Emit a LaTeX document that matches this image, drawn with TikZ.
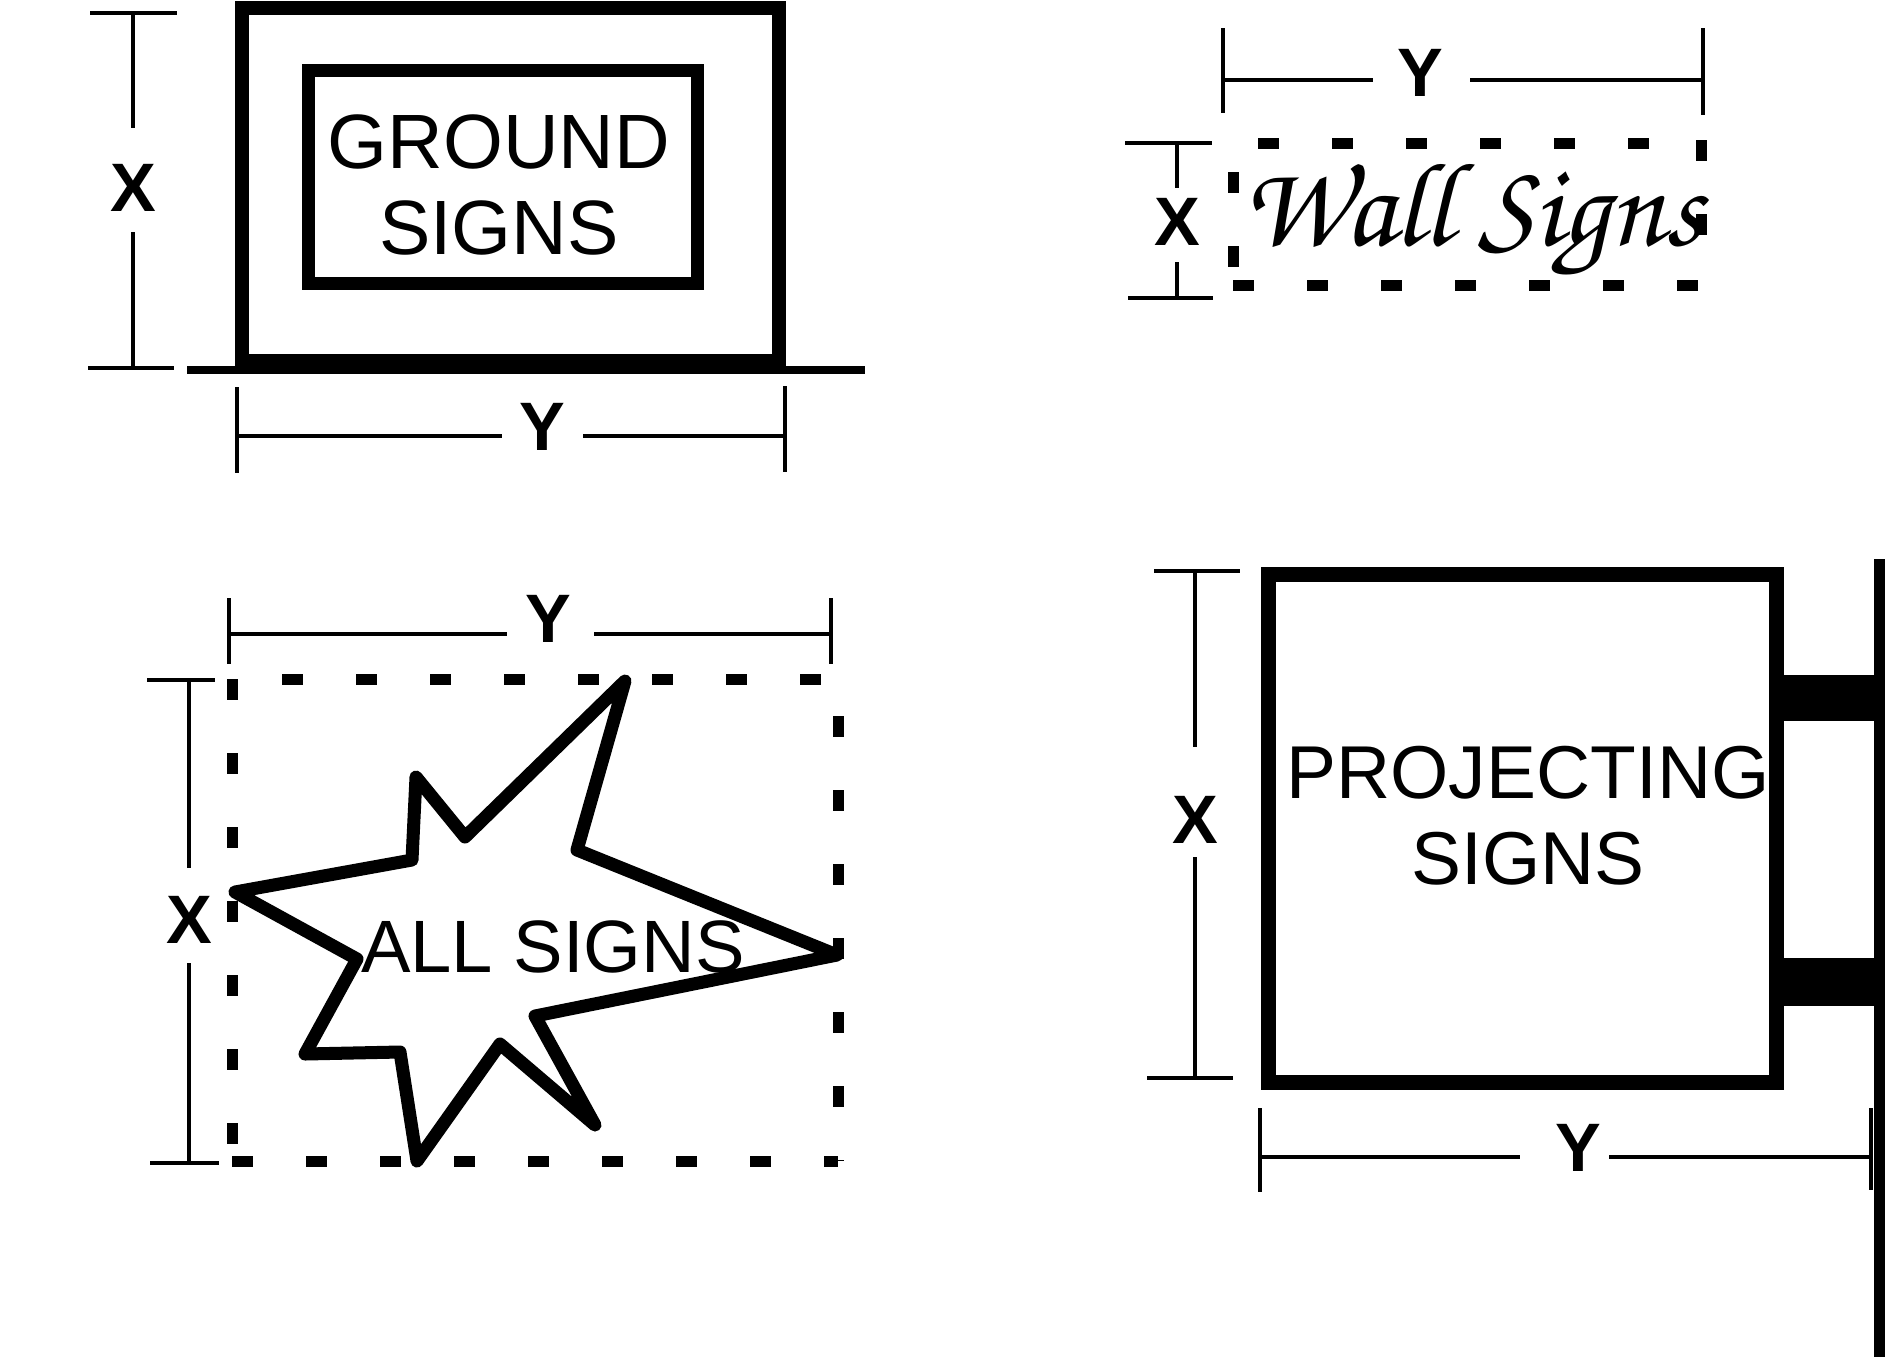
\documentclass[tikz,border=0pt]{standalone}
\usepackage[T1]{fontenc}
\usepackage{fontspec}
\setmainfont{Liberation Sans}
\begin{document}
\begin{tikzpicture}[x=0.01cm, y=-0.01cm,
    signline/.style={line width=0.14cm},
    dimline/.style={line width=0.04cm},
    dotline/.style={line width=0.11cm, dash pattern=on 0.21cm off 0.53cm},
    dimlabel/.style={inner sep=0pt, font=\fontsize{19.5}{20}\selectfont\bfseries},
    signlabel/.style={align=center, inner sep=0pt}]
  \useasboundingbox (0,0) rectangle (1885,1357);

  % Ground sign
  \draw[signline] (242,8) rectangle (779,361);
  \draw[line width=0.13cm] (308,70) rectangle (697,283);
  \draw[line width=0.08cm] (187,370) -- (865,370);
  \node[signlabel, font=\fontsize{21.9}{24.2}\selectfont] (groundtext) at (499,185) {GROUND\\SIGNS};
  % Ground sign dimensions
  \draw[dimline] (90,13) -- (177,13); \draw[dimline] (88,368) -- (174,368);
  \draw[dimline] (133,13) -- (133,128); \draw[dimline] (133,232) -- (133,368);
  \node[dimlabel] (groundx) at (133,188) {X};
  \draw[dimline] (237,387) -- (237,473); \draw[dimline] (785,386) -- (785,472);
  \draw[dimline] (237,436) -- (502,436); \draw[dimline] (583,436) -- (785,436);
  \node[dimlabel] (groundy) at (542,427) {Y};

  % Wall sign
  \draw[dotline, dash phase=0.49cm] (1233,143) -- (1701,143);
  \draw[dotline] (1233,285) -- (1701,285);
  \draw[dotline, dash phase=0.45cm] (1233,143) -- (1233,285);
  \draw[dotline] (1701,140) -- (1701,285);
  \node[anchor=base, inner sep=0pt, font=\fontsize{34}{40}\usefont{T1}{pzc}{mb}{it}] (walltext) at (1472,245) {Wall Signs};
  % Wall sign dimensions
  \draw[dimline] (1223,28) -- (1223,113); \draw[dimline] (1703,28) -- (1703,115);
  \draw[dimline] (1223,80) -- (1373,80); \draw[dimline] (1470,80) -- (1703,80);
  \node[dimlabel] (wally) at (1420,73) {Y};
  \draw[dimline] (1125,143) -- (1212,143); \draw[dimline] (1128,298) -- (1213,298);
  \draw[dimline] (1177,143) -- (1177,188); \draw[dimline] (1177,262) -- (1177,298);
  \node[dimlabel] (wallx) at (1177,222) {X};

  % All signs
  \draw[dotline, dash phase=0.24cm] (232,679) -- (838,679);
  \draw[dotline] (232,1161) -- (838,1161);
  \draw[dotline] (232,679) -- (232,1161);
  \draw[dotline, dash phase=0.37cm] (838,679) -- (838,1161);
  \draw[line width=0.13cm, line join=round]
    (625,681) -- (577,850) -- (837,955) -- (535,1016) -- (595,1125) -- (500,1044)
    -- (417,1161) -- (400,1052) -- (305,1054) -- (357,959) -- (235,892) -- (412,860)
    -- (416,777) -- (465,837) -- cycle;
  \node[signlabel, font=\fontsize{21.1}{24}\selectfont] (alltext) at (553,947) {ALL SIGNS};
  % All signs dimensions
  \draw[dimline] (229,598) -- (229,664); \draw[dimline] (831,598) -- (831,664);
  \draw[dimline] (229,634) -- (507,634); \draw[dimline] (594,634) -- (831,634);
  \node[dimlabel] (ally) at (548,619) {Y};
  \draw[dimline] (147,680) -- (215,680); \draw[dimline] (150,1163) -- (219,1163);
  \draw[dimline] (189,680) -- (189,868); \draw[dimline] (189,963) -- (189,1163);
  \node[dimlabel] (allx) at (189,920) {X};

  % Projecting sign
  \fill (1874,559) rectangle (1885,1357);
  \fill (1776,675) rectangle (1880,721);
  \fill (1776,958) rectangle (1880,1006);
  \draw[line width=0.15cm] (1268,574) rectangle (1776,1082);
  \node[signlabel, font=\fontsize{21.3}{24.5}\selectfont] (projtext) at (1528,816) {PROJECTING\\SIGNS};
  % Projecting sign dimensions
  \draw[dimline] (1154,571) -- (1240,571); \draw[dimline] (1147,1078) -- (1233,1078);
  \draw[dimline] (1195,571) -- (1195,747); \draw[dimline] (1195,857) -- (1195,1078);
  \node[dimlabel] (projx) at (1195,820) {X};
  \draw[dimline] (1260,1108) -- (1260,1192); \draw[dimline] (1871,1108) -- (1871,1190);
  \draw[dimline] (1260,1157) -- (1520,1157); \draw[dimline] (1609,1157) -- (1871,1157);
  \node[dimlabel] (projy) at (1578,1148) {Y};
\end{tikzpicture}
\end{document}
